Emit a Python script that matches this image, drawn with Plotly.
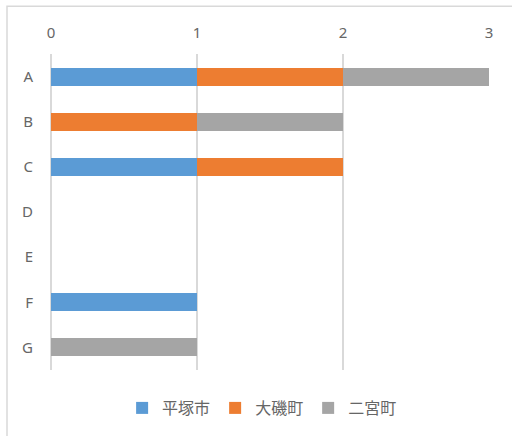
import plotly.graph_objects as go

categories = ["A", "B", "C", "D", "E", "F", "G"]
hiratsuka = [1, 0, 1, 0, 0, 1, 0]
oiso = [1, 1, 1, 0, 0, 0, 0]
ninomiya = [1, 1, 0, 0, 0, 0, 1]
series_names = ["平塚市", "大磯町", "二宮町"]
series_colors = ["#5B9BD5", "#ED7D31", "#A5A5A5"]
x_ticks = [0, 1, 2, 3]

fig = go.Figure()
for name, vals, col in zip(series_names, [hiratsuka, oiso, ninomiya], series_colors):
    fig.add_trace(go.Bar(
        y=categories, x=vals, name=name, orientation="h",
        marker=dict(color=col, line=dict(width=0)),
    ))

L, R, T, B = 51, 23, 54, 65
W, H = 512, 436
pw, ph = W - L - R, H - T - B

fig.update_layout(
    width=W, height=H,
    margin=dict(l=L, r=R, t=T, b=B),
    barmode="stack", bargap=0.6,
    plot_bgcolor="white", paper_bgcolor="white",
    font=dict(family="Noto Sans, Noto Sans CJK JP, sans-serif", color="#666666", size=15),
    xaxis=dict(
        side="top", range=[0, 3], tickvals=x_ticks,
        showgrid=True, gridcolor="#D9D9D9", gridwidth=1.5,
        zeroline=True, zerolinecolor="#D9D9D9", zerolinewidth=1.5,
        showline=False, ticks="", ticklabelstandoff=12,
        tickfont=dict(size=15, color="#666666"),
    ),
    yaxis=dict(
        autorange="reversed", showgrid=False, zeroline=False, showline=False,
        ticks="", ticklabelstandoff=17,
        tickfont=dict(size=15, color="#666666"),
    ),
    legend=dict(
        orientation="h", x=0.482, xanchor="center",
        y=(H - B - 408) / ph, yanchor="middle",
        font=dict(family="Noto Sans CJK JP, sans-serif", size=16, color="#666666"),
        itemwidth=30, traceorder="normal",
    ),
    shapes=[dict(
        type="rect", xref="paper", yref="paper",
        x0=(7 - L) / pw, x1=(W + 5 - L) / pw,
        y0=(H - B - (H + 5)) / ph, y1=(H - B - 6) / ph,
        line=dict(color="#D9D9D9", width=1.5), fillcolor="rgba(0,0,0,0)",
        layer="below",
    )],
)

fig.write_html("out.html")
